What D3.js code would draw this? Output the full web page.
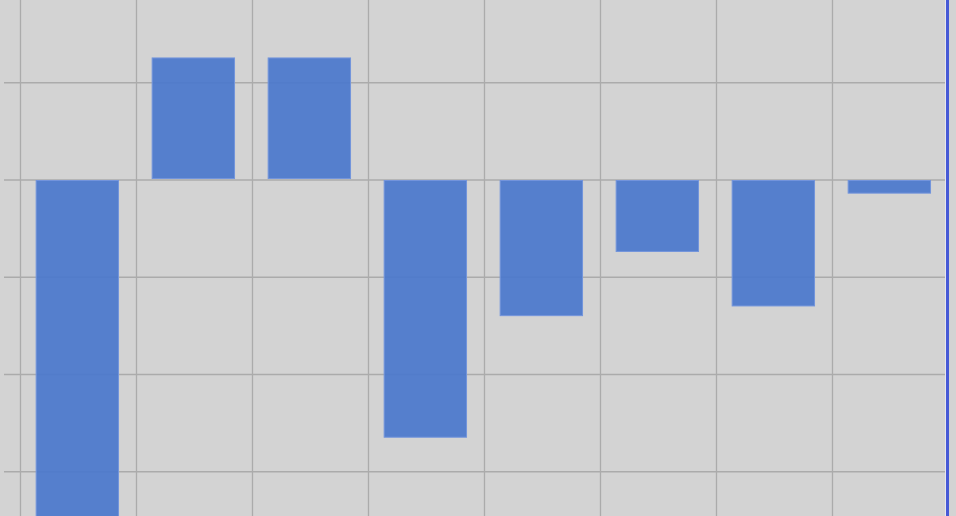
<!DOCTYPE html>
<html>
<head>
<meta charset="utf-8">
<script src="https://cdn.jsdelivr.net/npm/d3@7"></script>
<style>
  html, body { margin: 0; padding: 0; background: #d3d3d3; }
  svg { display: block; }
</style>
</head>
<body>
<div id="chart"></div>
<script>
var categories = ["A", "B", "C", "D", "E", "F", "G", "H"];
var values = [-3.6, 1.25, 1.25, -2.65, -1.4, -0.74, -1.3, -0.14];
var yTicks = [1, 0, -1, -2, -3];

function drawChart(selector){

    var width = 956, height = 516;

    d3.select(selector).html(null)

    var svg = d3.select(selector)
        .append("svg")
        .attr("width", width)
        .attr("height", height)

    svg.append("rect")
        .attr("width", width)
        .attr("height", height)
        .attr("fill", "#d3d3d3")

    var x = d3.scaleBand()
        .domain(categories)
        .range([20.5, 948.5])
        .padding(0)

    var y = d3.scaleLinear()
        .domain([1.846, -3.4602])
        .range([0, height])

    // vertical grid at band edges
    var edges = categories.map(function(c){ return x(c); });
    svg.selectAll(".vgrid")
        .data(edges).enter().append("line")
        .attr("class", "vgrid")
        .attr("x1", function(d){ return d; })
        .attr("x2", function(d){ return d; })
        .attr("y1", 0)
        .attr("y2", height)
        .attr("stroke", "#ababab")
        .attr("stroke-width", 1.3)

    // horizontal grid + ticks via axis
    var yAxis = d3.axisLeft(y)
        .tickValues(yTicks)
        .tickSize(-(946 - 20.5))
        .tickFormat("")
        .tickSizeOuter(0)

    var gy = svg.append("g")
        .attr("transform", "translate(20.5,0)")
        .call(yAxis)
    gy.select(".domain").remove()
    gy.selectAll(".tick line")
        .attr("x1", -16.5)
        .attr("stroke", "#ababab")
        .attr("stroke-width", 1.3)

    var bw = x.bandwidth();
    svg.selectAll(".bar")
        .data(values).enter().append("rect")
        .attr("class", "bar")
        .attr("x", function(d, i){ return x(categories[i]) + bw * 0.135; })
        .attr("width", bw * 0.71)
        .attr("y", function(d){ return d >= 0 ? y(d) : y(0) + 1; })
        .attr("height", function(d){ return Math.abs(y(d) - y(0)) - 1; })
        .attr("fill", "#4a77cc")
        .attr("fill-opacity", 0.92)
        .attr("stroke", "#7395dc")
        .attr("stroke-width", 1)

    // right edge marker
    svg.append("line")
        .attr("x1", 945.5).attr("x2", 945.5)
        .attr("y1", 0).attr("y2", height)
        .attr("stroke", "#e6e6ee")
        .attr("stroke-width", 1)
    svg.append("line")
        .attr("x1", 947.5).attr("x2", 947.5)
        .attr("y1", 0).attr("y2", height)
        .attr("stroke", "#4659d6")
        .attr("stroke-width", 3)
}

drawChart("#chart");
</script>
</body>
</html>
